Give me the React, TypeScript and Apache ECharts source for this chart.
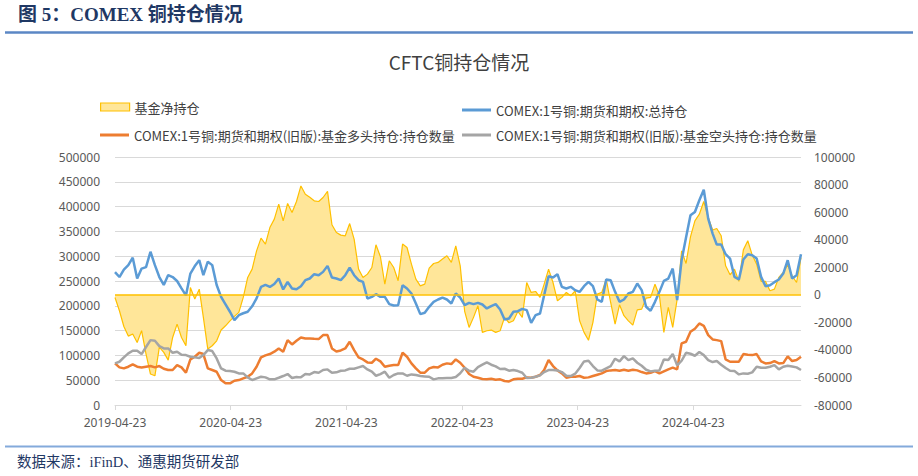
import React, { useEffect, useRef } from "react";
import * as echarts from "echarts";

// x axis: days since 2019-04-23, sampled about every two weeks
const spanDays = 2166;
const daysPerYear = 365.25;
const xTickLabels = ["2019-04-23", "2020-04-23", "2021-04-23", "2022-04-23", "2023-04-23", "2024-04-23"];

const netName = "基金净持仓";
const totalName = "COMEX:1号铜:期货和期权:总持仓";
const longName = "COMEX:1号铜:期货和期权(旧版):基金多头持仓:持仓数量";
const shortName = "COMEX:1号铜:期货和期权(旧版):基金空头持仓:持仓数量";

// 基金净持仓 (right axis)
const netPosition = [
  -2000, -11600, -23000, -30000, -28500, -34600, -26000, -43000, -57500, -58800,
  -38000, -41800, -47400, -31000, -21300, -31000, -37000, 5300, -3100, 4100,
  -16400, -39400, -37000, -33400, -25600, -22500, -18900, -15700, -12800, -1900,
  12600, 18600, 31900, 41100, 36800, 48800, 54900, 65800, 53700, 66300,
  59700, 67700, 79000, 73000, 70800, 68200, 67700, 70600, 75000, 50800,
  45200, 43300, 42800, 51700, 40400, 18600, 12600, 15000, 19800, 36300,
  27600, 7700, 24700, 19800, 10200, 36800, 34300, 22200, 11400, 6500,
  7700, 19300, 22700, 23500, 25900, 28300, 23500, 35500, 21000, -12000,
  -23700, -16400, -8000, -27300, -26100, -25600, -27300, -26100, -16400, -20300,
  -18900, -12100, -16400, 8900, 1700, 2400, -1900, 7700, 18600, 8900,
  -4400, -1900, 1700, -700, 2900, -18900, -27300, -33000, -20000, 500,
  1700, 11400, -5600, -21300, -7300, -15200, -18900, -22000, -11000, -10400,
  -2400, -1900, 7700, -700, -27300, -9200, -23700, -3100, 31900, 22700,
  42000, 53700, 58500, 67700, 56100, 47000, 48100, 42800, 21000, 14500,
  18600, 9700, 32600, 39200, 28800, 22200, 9700, 9700, 2900, 4100,
  12600, 16200, 21800, 13800, 8900, 27000,
];

// 总持仓 (left axis)
const totalOpenInterest = [
  268000, 258000, 273000, 282000, 297000, 255000, 275000, 278000, 309000, 282000,
  258000, 242000, 262000, 258000, 250000, 235000, 221000, 265000, 280000, 292000,
  262000, 289000, 282000, 242000, 218000, 203000, 188000, 171000, 181000, 185000,
  188000, 199000, 215000, 238000, 242000, 238000, 244000, 255000, 233000, 248000,
  234900, 233500, 239500, 251600, 255000, 263700, 261600, 268400, 280500, 257000,
  255000, 251600, 261600, 277100, 261600, 251600, 248300, 214700, 218100, 223400,
  218100, 218100, 203300, 200600, 201300, 241600, 234900, 224800, 204700, 183200,
  185900, 198000, 208000, 212700, 216700, 212700, 204700, 224800, 216700, 201300,
  206000, 203300, 206000, 202600, 194600, 199300, 203300, 192600, 172400, 174500,
  187900, 189200, 193900, 191200, 165700, 181200, 184500, 221400, 259700, 257000,
  263700, 238200, 234900, 238200, 231500, 228100, 239500, 248300, 239500, 212700,
  208000, 253000, 251600, 228100, 208000, 212700, 224800, 228100, 244900, 231500,
  198000, 189900, 208000, 228100, 250300, 255000, 275100, 211400, 291900, 337500,
  382500, 389200, 412700, 434100, 375800, 345600, 323400, 323400, 304000, 295200,
  258300, 253000, 293200, 304000, 302000, 295200, 258300, 239500, 241600, 247600,
  253000, 265000, 291900, 255000, 261600, 304000,
];

// 基金多头持仓 (left axis)
const fundLong = [
  83900, 75800, 73800, 77200, 81900, 77200, 75800, 77200, 78500, 75800,
  78500, 73100, 70500, 70500, 80500, 75800, 65100, 91900, 97300, 105300,
  102700, 73800, 70500, 67100, 50300, 43600, 43600, 49000, 50300, 53700,
  57000, 63700, 77200, 96000, 100000, 102700, 107400, 114000, 107400, 130800,
  122100, 129500, 136200, 134200, 134200, 133500, 132900, 140900, 140900, 114000,
  108000, 110000, 114000, 127500, 110700, 96000, 91900, 85900, 85200, 93300,
  87900, 77200, 79200, 80500, 80500, 105300, 97300, 83900, 73800, 65100,
  65100, 73800, 76500, 75800, 81200, 83900, 82500, 91900, 85200, 75000,
  62400, 57000, 55000, 52300, 51700, 53000, 51000, 51700, 48300, 47600,
  51700, 53000, 53000, 55700, 55000, 57000, 60400, 70500, 90600, 78500,
  69800, 63700, 55000, 57000, 57000, 58400, 55000, 55700, 58400, 61100,
  63700, 68400, 69800, 70500, 69100, 71100, 69100, 71100, 69800, 66400,
  63700, 65100, 68400, 63700, 67800, 71800, 75200, 71800, 124100, 127500,
  147600, 153700, 164400, 159700, 140900, 132200, 130800, 128800, 91900, 87200,
  87200, 87200, 102700, 101300, 100600, 102700, 87900, 83900, 84500, 88600,
  83900, 84500, 98000, 88600, 90600, 97300,
];

// 基金空头持仓 (left axis)
const fundShort = [
  83900, 87200, 96000, 104000, 109400, 109400, 102700, 117000, 130800, 129500,
  118800, 114000, 114000, 105300, 107400, 101300, 100600, 97300, 96000, 94600,
  100600, 110700, 108700, 93900, 73800, 69100, 68400, 67100, 63700, 63700,
  55700, 50300, 53700, 57000, 55700, 51700, 51700, 55000, 58400, 62400,
  54400, 56400, 55700, 62400, 61700, 66400, 65100, 70500, 71800, 65100,
  65800, 69100, 69800, 73100, 73100, 75800, 78500, 71800, 67100, 59000,
  62400, 67100, 55000, 60400, 63700, 63700, 59000, 61700, 60400, 58400,
  57700, 57000, 51700, 53700, 53700, 54400, 54400, 56400, 64000, 75000,
  69100, 67100, 76500, 81200, 85900, 81200, 77800, 72500, 73100, 69100,
  70500, 68400, 65100, 54400, 55000, 57000, 59700, 66400, 70500, 70500,
  69800, 66400, 59000, 58400, 63100, 74500, 87900, 89200, 78500, 69800,
  69100, 73800, 78500, 93300, 87900, 98600, 90600, 93900, 85200, 79200,
  71100, 67800, 69100, 69800, 91900, 90600, 102700, 79900, 89200, 105300,
  103300, 99300, 106700, 100600, 90600, 86600, 88600, 81200, 74500, 69100,
  68400, 61700, 63700, 63100, 65800, 77200, 75200, 75200, 77200, 80500,
  71800, 77200, 79200, 77800, 75800, 70500,
];

const FONT_CJK = "'Noto Sans CJK SC', 'Noto Sans', sans-serif";
const FONT_NUM = "'Noto Sans', 'Liberation Sans', sans-serif";

export default function App() {
  const ref = useRef<HTMLDivElement>(null);

  useEffect(() => {
    if (!ref.current) return;
    const chart = echarts.init(ref.current, undefined, { renderer: "svg" });
    const n = netPosition.length;
    const xs = netPosition.map((_, i) => Math.round((i * spanDays) / (n - 1)));
    const pair = (arr: number[]) => arr.map((v, i) => [xs[i], v]);

    const legendText = { fontFamily: FONT_CJK, fontSize: 13, color: "#404040" };
    const mkLegend = (name: string, left: number, centerY: number, isArea: boolean, color: string) => {
      const h = isArea ? 8 : 3;
      return {
        show: true,
        left,
        top: centerY - h / 2,
        padding: 0,
        orient: "horizontal",
        selectedMode: false,
        icon: "rect",
        itemWidth: 29,
        itemHeight: h,
        textStyle: legendText,
        data: [
          {
            name,
            itemStyle: isArea
              ? { color: "#FFE699", borderColor: "#FFC000", borderWidth: 1.2 }
              : { color, borderWidth: 0 },
          },
        ],
      };
    };

    const numLabel = {
      color: "#595959",
      fontSize: 12,
      fontFamily: FONT_NUM,
      lineHeight: 12,
      formatter: (v: number) => String(v),
    };

    const option: any = {
      animation: false,
      backgroundColor: "#ffffff",
      title: {
        text: "CFTC铜持仓情况",
        left: "center",
        top: 52,
        padding: 0,
        textStyle: { fontFamily: FONT_CJK, fontSize: 19, fontWeight: "normal", color: "#404040" },
      },
      legend: [
        mkLegend(netName, 100, 104.5, true, "#FFC000"),
        mkLegend(totalName, 462, 105, false, "#5B9BD5"),
        mkLegend(longName, 100, 130, false, "#ED7D31"),
        mkLegend(shortName, 462, 130, false, "#A5A5A5"),
      ],
      grid: { left: 115, right: 117, top: 157, bottom: 71, containLabel: false },
      xAxis: {
        type: "value",
        min: 0,
        max: spanDays,
        interval: daysPerYear,
        axisLine: { show: true, onZero: false, lineStyle: { color: "#D9D9D9", width: 1 } },
        axisTick: { show: true, length: 5, lineStyle: { color: "#D9D9D9" } },
        splitLine: { show: false },
        axisLabel: {
          color: "#595959",
          fontSize: 12,
          fontFamily: FONT_NUM,
          lineHeight: 12,
          margin: 11,
          showMaxLabel: false,
          formatter: (v: number) => {
            const k = Math.round(v / daysPerYear);
            if (Math.abs(v - k * daysPerYear) < 1 && k >= 0 && k < xTickLabels.length) return xTickLabels[k];
            return "";
          },
        },
      },
      yAxis: [
        {
          type: "value",
          position: "left",
          min: 0,
          max: 500000,
          interval: 50000,
          axisLine: { show: false },
          axisTick: { show: false },
          splitLine: { show: true, lineStyle: { color: "#D9D9D9", width: 1 } },
          axisLabel: { ...numLabel, margin: 15 },
        },
        {
          type: "value",
          position: "right",
          min: -80000,
          max: 100000,
          interval: 20000,
          axisLine: { show: false },
          axisTick: { show: false },
          splitLine: { show: false },
          axisLabel: { ...numLabel, margin: 13 },
        },
      ],
      series: [
        {
          name: netName,
          type: "line",
          yAxisIndex: 1,
          data: pair(netPosition),
          symbol: "none",
          showSymbol: false,
          color: "#FFC000",
          lineStyle: { color: "#FFC000", width: 1.2 },
          areaStyle: { color: "#FFE699", opacity: 1 },
          markLine: {
            silent: true,
            symbol: ["none", "none"],
            label: { show: false },
            lineStyle: { color: "#FFC000", width: 1.5, type: "solid" },
            data: [{ yAxis: 0 }],
          },
        },
        {
          name: totalName,
          type: "line",
          yAxisIndex: 0,
          data: pair(totalOpenInterest),
          symbol: "none",
          showSymbol: false,
          color: "#5B9BD5",
          lineStyle: { color: "#5B9BD5", width: 2.5 },
        },
        {
          name: longName,
          type: "line",
          yAxisIndex: 0,
          data: pair(fundLong),
          symbol: "none",
          showSymbol: false,
          color: "#ED7D31",
          lineStyle: { color: "#ED7D31", width: 2.5 },
        },
        {
          name: shortName,
          type: "line",
          yAxisIndex: 0,
          data: pair(fundShort),
          symbol: "none",
          showSymbol: false,
          color: "#A5A5A5",
          lineStyle: { color: "#A5A5A5", width: 2.5 },
        },
      ],
      graphic: [
        {
          type: "text",
          left: 18,
          top: 5,
          style: {
            text: "图 5：COMEX 铜持仓情况",
            fill: "#1F3864",
            font: "bold 19px 'Liberation Serif', 'Noto Sans CJK SC', serif",
          },
        },
        {
          type: "line",
          shape: { x1: 5, y1: 32.5, x2: 913, y2: 32.5 },
          style: { stroke: "#5B87C5", lineWidth: 2.5 },
        },
        {
          type: "line",
          shape: { x1: 5, y1: 446.5, x2: 913, y2: 446.5 },
          style: { stroke: "#84AADB", lineWidth: 2 },
        },
        {
          type: "text",
          left: 17,
          top: 455,
          style: {
            text: "数据来源：iFinD、通惠期货研发部",
            fill: "#1F3864",
            font: "14.5px 'Liberation Serif', 'Noto Sans CJK SC', serif",
          },
        },
      ],
    };

    chart.setOption(option);
    return () => chart.dispose();
  }, []);

  return (
    <div
      ref={ref}
      style={{ position: "fixed", left: 0, top: 0, width: 918, height: 476, background: "#ffffff" }}
    />
  );
}
